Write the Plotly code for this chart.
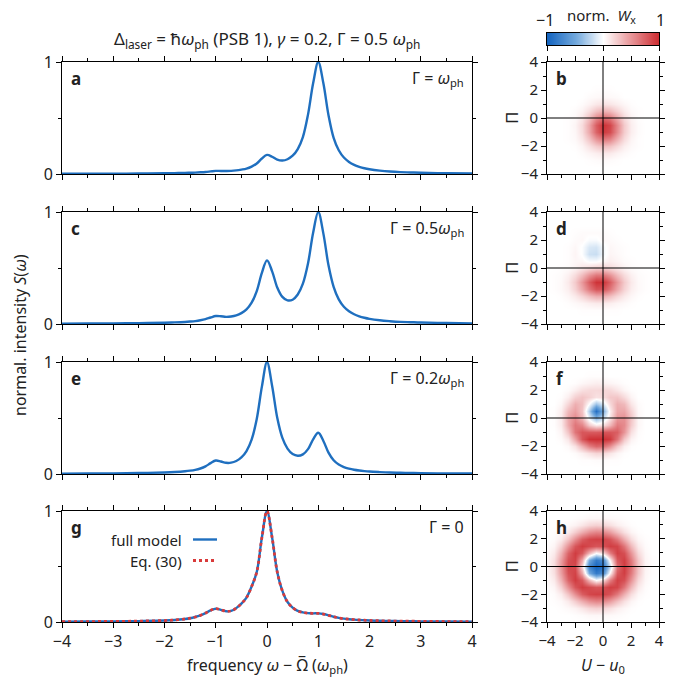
import plotly.graph_objects as go

W, H = 696, 686
FONT = "Noto Sans"
TXT = "#222222"
BLUE = "#1f6fbf"
RED = "#d93a3a"

# ---------------- data: spectra (normalised intensity) ----------------
FREQ = [-4, -3.5, -3, -2.5, -2, -1.8, -1.6,
        -1.5, -1.4, -1.3, -1.2, -1.1, -1.0, -0.9, -0.8, -0.7, -0.6, -0.5, -0.4, -0.3, -0.2, -0.1, 0.0,
        0.1, 0.2, 0.3, 0.4, 0.5, 0.6, 0.7, 0.8, 0.9, 1.0, 1.1, 1.2, 1.3, 1.4, 1.5, 1.6, 1.7, 1.8, 1.9, 2.0,
        2.2, 2.4, 2.6, 2.8, 3.0, 3.5, 4.0]

S_A = [.002, .0025, .003, .004, .0065, .008, .0096,
       .011, .0126, .015, .018, .023, .028, .027, .027, .028, .032, .039, .048, .066, .094, .138, .171,
       .154, .128, .12, .132, .163, .223, .33, .53, .81, 1.0, .81, .525, .323, .212, .147, .108, .082, .064, .051, .042,
       .030, .022, .017, .014, .011, .007, .005]

S_C = [.0032, .004, .0054, .0075, .0114, .0142, .0184,
       .0217, .026, .033, .043, .058, .071, .069, .064, .067, .077, .097, .13, .19, .294, .456, .568,
       .47, .326, .242, .211, .217, .263, .36, .54, .815, 1.0, .807, .524, .332, .22, .154, .114, .087, .069, .056, .046,
       .033, .025, .019, .016, .013, .009, .006]

S_E = [.0033, .0042, .006, .0086, .014, .018, .0246,
       .0296, .037, .049, .068, .097, .12, .112, .1, .101, .116, .148, .205, .307, .491, .78, 1.0,
       .786, .502, .322, .227, .178, .163, .175, .222, .31, .368, .295, .191, .123, .085, .062, .048, .038, .031, .026, .022,
       .017, .013, .011, .009, .0076, .0052, .004]

S_G_FULL = [.003, .004, .005, .008, .013, .018, .027,
            .034, .045, .06, .08, .105, .12, .11, .097, .1, .125, .165, .22, .32, .45, .76, 1.0,
            .76, .45, .28, .18, .13, .1, .087, .08, .078, .078, .072, .06, .047, .037, .03, .025, .021, .018, .016, .014,
            .011, .009, .008, .007, .006, .004, .003]

S_G_EQ30 = [.003, .004, .005, .008, .013, .018, .027,
            .034, .045, .06, .08, .105, .12, .11, .097, .1, .125, .165, .22, .32, .45, .76, 1.0,
            .76, .45, .28, .18, .13, .1, .087, .08, .078, .078, .072, .06, .047, .037, .03, .025, .021, .018, .016, .014,
            .011, .009, .008, .007, .006, .004, .003]

GAMMA_LABELS = ["Γ = <i>ω</i><sub>ph</sub>", "Γ = 0.5<i>ω</i><sub>ph</sub>",
                "Γ = 0.2<i>ω</i><sub>ph</sub>", "Γ = 0"]

# ---------------- data: normalised Wigner maps (percent) ----------------
U_GRID = [-4, -3.5, -3, -2.5, -2, -1.5, -1, -0.5, 0, 0.5, 1, 1.5, 2, 2.5, 3, 3.5, 4]
PI_GRID = [-4, -3.5, -3, -2.5, -2, -1.5, -1, -0.5, 0, 0.5, 1, 1.5, 2, 2.5, 3, 3.5, 4]
Z0 = [0] * 17

WX_B = [
    Z0, Z0,
    [0, 0, 0, 0, 0, 0, 1, 2, 3, 2, 1, 0, 0, 0, 0, 0, 0],
    [0, 0, 0, 0, 0, 2, 5, 8, 11, 10, 6, 3, 1, 0, 0, 0, 0],
    [0, 0, 0, 0, 1, 5, 14, 24, 31, 28, 18, 8, 3, 1, 0, 0, 0],
    [0, 0, 0, 1, 3, 11, 28, 50, 64, 58, 37, 17, 5, 1, 0, 0, 0],
    [0, 0, 0, 1, 4, 16, 41, 73, 93, 84, 54, 24, 8, 2, 0, 0, 0],
    [0, 0, 0, 1, 5, 17, 42, 76, 97, 87, 56, 25, 8, 2, 0, 0, 0],
    [0, 0, 0, 1, 3, 12, 31, 56, 71, 64, 41, 18, 6, 1, 0, 0, 0],
    [0, 0, 0, 0, 2, 6, 16, 29, 37, 33, 21, 10, 3, 1, 0, 0, 0],
    [0, 0, 0, 0, 0, 2, 6, 11, 14, 12, 8, 4, 1, 0, 0, 0, 0],
    [0, 0, 0, 0, 0, 0, 2, 3, 4, 3, 2, 0, 0, 0, 0, 0, 0],
    [0, 0, 0, 0, 0, 0, 0, 1, 1, 1, 0, 0, 0, 0, 0, 0, 0],
    Z0, Z0, Z0, Z0,
]

WX_D = [
    Z0, Z0,
    [0, 0, 0, 0, 0, 1, 1, 1, 1, 1, 1, 0, 0, 0, 0, 0, 0],
    [0, 0, 0, 1, 3, 5, 8, 10, 10, 8, 5, 3, 1, 0, 0, 0, 0],
    [0, 0, 1, 4, 10, 19, 30, 38, 38, 30, 19, 10, 4, 1, 0, 0, 0],
    [0, 1, 3, 8, 21, 41, 64, 81, 81, 64, 41, 21, 8, 3, 1, 0, 0],
    [0, 1, 3, 10, 25, 49, 76, 96, 96, 76, 49, 25, 10, 3, 1, 0, 0],
    [0, 1, 2, 7, 17, 32, 51, 64, 64, 51, 32, 17, 7, 2, 1, 0, 0],
    [0, 0, 1, 2, 6, 12, 18, 23, 23, 18, 12, 6, 2, 1, 0, 0, 0],
    [0, 0, 0, 1, 4, 4, -2, -2, 3, 8, 5, 2, 1, 0, 0, 0, 0],
    [0, 0, 0, 1, 5, -1, -17, -19, -4, 5, 3, 1, 0, 0, 0, 0, 0],
    [0, 0, 0, 1, 4, -1, -13, -15, -3, 4, 2, 1, 0, 0, 0, 0, 0],
    [0, 0, 0, 0, 2, 3, -2, -2, 3, 2, 1, 0, 0, 0, 0, 0, 0],
    [0, 0, 0, 0, 1, 2, 2, 2, 2, 1, 0, 0, 0, 0, 0, 0, 0],
    Z0, Z0, Z0,
]

WX_F = [
    Z0, Z0,
    [0, 0, 0, 0, 0, 1, 1, 2, 2, 1, 1, 0, 0, 0, 0, 0, 0],
    [0, 0, 0, 0, 2, 7, 14, 20, 19, 12, 5, 1, 0, 0, 0, 0, 0],
    [0, 0, 0, 3, 14, 37, 60, 72, 68, 52, 26, 8, 1, 0, 0, 0, 0],
    [0, 0, 2, 12, 43, 80, 97, 98, 98, 93, 66, 27, 6, 1, 0, 0, 0],
    [0, 0, 5, 28, 65, 80, 78, 78, 80, 80, 76, 50, 15, 2, 0, 0, 0],
    [0, 1, 9, 40, 65, 57, 25, 10, 15, 35, 62, 55, 24, 4, 0, 0, 0],
    [0, 1, 10, 41, 55, 34, -7, -40, -19, 14, 49, 52, 27, 4, 0, 0, 0],
    [0, 1, 8, 33, 45, 28, -28, -93, -46, 8, 41, 42, 21, 3, 0, 0, 0],
    [0, 0, 4, 20, 38, 30, -1, -35, -13, 18, 38, 33, 12, 2, 0, 0, 0],
    [0, 0, 1, 8, 22, 28, 22, 14, 16, 26, 27, 17, 5, 0, 0, 0, 0],
    [0, 0, 0, 2, 8, 15, 18, 18, 19, 18, 12, 5, 1, 0, 0, 0, 0],
    [0, 0, 0, 0, 1, 4, 6, 8, 7, 5, 3, 1, 0, 0, 0, 0, 0],
    [0, 0, 0, 0, 0, 0, 1, 1, 1, 0, 0, 0, 0, 0, 0, 0, 0],
    Z0, Z0,
]

WX_H = [
    [0, 0, 0, 0, 0, 0, 0, 1, 0, 0, 0, 0, 0, 0, 0, 0, 0],
    [0, 0, 0, 0, 1, 2, 4, 4, 4, 3, 2, 1, 0, 0, 0, 0, 0],
    [0, 0, 1, 3, 6, 12, 19, 22, 20, 15, 8, 4, 1, 0, 0, 0, 0],
    [0, 1, 3, 10, 24, 39, 52, 58, 56, 46, 30, 15, 5, 1, 0, 0, 0],
    [0, 2, 9, 28, 53, 76, 87, 90, 89, 81, 63, 38, 16, 4, 1, 0, 0],
    [1, 5, 22, 52, 80, 92, 86, 80, 82, 91, 88, 65, 33, 10, 2, 0, 0],
    [2, 10, 36, 73, 92, 78, 34, 1, 16, 61, 90, 83, 50, 18, 4, 0, 0],
    [3, 15, 46, 82, 89, 41, -48, -84, -70, 6, 78, 91, 62, 26, 5, 1, 0],
    [3, 17, 50, 86, 85, 20, -75, -99, -90, -20, 67, 92, 67, 28, 6, 1, 0],
    [3, 15, 46, 82, 89, 41, -48, -84, -70, 6, 78, 91, 62, 26, 5, 1, 0],
    [2, 10, 36, 73, 92, 78, 34, 1, 16, 61, 90, 83, 50, 18, 4, 0, 0],
    [1, 5, 22, 52, 80, 92, 86, 80, 82, 91, 88, 65, 33, 10, 2, 0, 0],
    [0, 2, 9, 28, 53, 76, 87, 90, 89, 81, 63, 38, 16, 4, 1, 0, 0],
    [0, 1, 3, 10, 24, 39, 52, 58, 56, 46, 30, 15, 5, 1, 0, 0, 0],
    [0, 0, 1, 3, 6, 12, 19, 22, 20, 15, 8, 4, 1, 0, 0, 0, 0],
    [0, 0, 0, 0, 1, 2, 4, 4, 4, 3, 2, 1, 0, 0, 0, 0, 0],
    [0, 0, 0, 0, 0, 0, 0, 1, 0, 0, 0, 0, 0, 0, 0, 0, 0],
]

# colour-bar levels (norm. W_x in percent)
CBAR_LEVELS = [-100, -90, -80, -70, -60, -50, -40, -30, -20, -10, 0,
               10, 20, 30, 40, 50, 60, 70, 80, 90, 100]

LEFT_LETTERS = ["a", "c", "e", "g"]
RIGHT_LETTERS = ["b", "d", "f", "h"]

# ---------------- layout geometry (pixels) ----------------
def px(x):
    return x / W

def py(y):
    return 1 - y / H

ROWS = [(62, 174), (212, 324), (362, 474), (511, 622)]
LEFT_X = (62, 472)
HEAT_X = (547, 659)
CBAR_Y = (33, 45)
LEG_Y = (539.5, 560.5)

COLORSCALE = [[0.0, "#1565c0"], [0.25, "#70a7dc"], [0.5, "#ffffff"], [0.75, "#e89598"], [1.0, "#cc2b30"]]

fig = go.Figure()

common = dict(showline=True, linecolor="black", linewidth=1, mirror="ticks",
              ticks="outside", ticklen=5, tickwidth=1, tickcolor="black",
              showgrid=False, zeroline=False, layer="above traces", automargin=False,
              tickfont=dict(family=FONT, size=16, color=TXT))
heat_font = dict(family=FONT, size=15, color=TXT)

spectra = [S_A, S_C, S_E, S_G_FULL]
for i, (top, bot) in enumerate(ROWS):
    li = i + 1
    hi = i + 5
    fig.update_layout(**{
        f"xaxis{li}": dict(common, domain=[px(LEFT_X[0]), px(LEFT_X[1])], anchor=f"y{li}",
                           range=[-4, 4], tick0=0, dtick=1, showticklabels=(i == 3),
                           minor=dict(dtick=0.5, ticklen=3, ticks="outside", tickcolor="black", showgrid=False)),
        f"yaxis{li}": dict(common, domain=[py(bot), py(top)], anchor=f"x{li}",
                           range=[0, 1], tickvals=[0, 1],
                           minor=dict(dtick=0.5, ticklen=3, ticks="outside", tickcolor="black", showgrid=False)),
        f"xaxis{hi}": dict(common, domain=[px(HEAT_X[0]), px(HEAT_X[1])], anchor=f"y{hi}",
                           range=[-4, 4], tick0=0, dtick=2, showticklabels=(i == 3), tickfont=heat_font,
                           minor=dict(dtick=1, ticklen=3, ticks="outside", tickcolor="black", showgrid=False)),
        f"yaxis{hi}": dict(common, domain=[py(bot), py(top)], anchor=f"x{hi}",
                           range=[-4, 4], tick0=0, dtick=2, tickfont=heat_font,
                           minor=dict(dtick=1, ticklen=3, ticks="outside", tickcolor="black", showgrid=False)),
    })
    fig.add_trace(go.Scatter(x=FREQ, y=spectra[i], mode="lines", line=dict(color=BLUE, width=2.4, shape="spline"),
                             xaxis=f"x{li}", yaxis=f"y{li}", showlegend=False, hoverinfo="skip"))

fig.add_trace(go.Scatter(x=FREQ, y=S_G_EQ30, mode="lines",
                         line=dict(color=RED, width=2.8, dash="dot", shape="spline"),
                         xaxis="x4", yaxis="y4", showlegend=False, hoverinfo="skip"))

maps = [WX_B, WX_D, WX_F, WX_H]
for i, z in enumerate(maps):
    hi = i + 5
    fig.add_trace(go.Heatmap(x=U_GRID, y=PI_GRID, z=z, coloraxis="coloraxis", zsmooth="best",
                             xaxis=f"x{hi}", yaxis=f"y{hi}", hoverinfo="skip"))
    fig.add_shape(type="line", xref=f"x{hi}", yref=f"y{hi}", x0=0, x1=0, y0=-4, y1=4,
                  line=dict(color="black", width=1), layer="above")
    fig.add_shape(type="line", xref=f"x{hi}", yref=f"y{hi}", x0=-4, x1=4, y0=0, y1=0,
                  line=dict(color="black", width=1), layer="above")

# colour bar as its own small subplot
fig.add_trace(go.Heatmap(x=CBAR_LEVELS, y=[0], z=[CBAR_LEVELS], coloraxis="coloraxis", zsmooth="best",
                         xaxis="x9", yaxis="y9", hoverinfo="skip"))
fig.update_layout(
    xaxis9=dict(domain=[px(HEAT_X[0]), px(HEAT_X[1])], anchor="y9", range=[-100, 100],
                showline=True, linecolor="black", linewidth=1, mirror=True,
                ticks="outside", ticklen=5, tickcolor="black", tickvals=[-100, 0, 100],
                showticklabels=False, showgrid=False, zeroline=False, automargin=False),
    yaxis9=dict(domain=[py(CBAR_Y[1]), py(CBAR_Y[0])], anchor="x9", range=[-0.5, 0.5],
                showline=True, linecolor="black", linewidth=1, mirror=True,
                ticks="", showticklabels=False, showgrid=False, zeroline=False, automargin=False),
)


def note(x, y, text, size=16, xanchor="center", yanchor="middle", angle=0, bold=False):
    return dict(x=px(x), y=py(y), xref="paper", yref="paper", showarrow=False,
                xanchor=xanchor, yanchor=yanchor, textangle=angle,
                text=f"<b>{text}</b>" if bold else text,
                font=dict(family=FONT, size=size, color=TXT))


annotations = []
for i, (top, bot) in enumerate(ROWS):
    annotations.append(note(LEFT_X[0] + 7, top + 3, LEFT_LETTERS[i], 17, "left", "top", bold=True))
    annotations.append(note(HEAT_X[0] + 7, top + 3, RIGHT_LETTERS[i], 17, "left", "top", bold=True))
    annotations.append(note(LEFT_X[1] - 6, top + 3, GAMMA_LABELS[i], 16, "right", "top"))
    annotations.append(note(511, (top + bot) / 2, "Π", 17, angle=-90))

annotations += [
    note(20, 335, "normal. intensity <i>S</i>(<i>ω</i>)", 16, angle=-90),
    note(267, 665, "frequency <i>ω</i> − Ω\u0305 (<i>ω</i><sub>ph</sub>)", 16),
    note(603, 665, "<i>U</i> − <i>u</i><sub>0</sub>", 16),
    note(267, 40, "Δ<sub>laser</sub> = ħ<i>ω</i><sub>ph</sub> (PSB 1), <i>γ</i> = 0.2, Γ = 0.5 <i>ω</i><sub>ph</sub>", 17),
    note(545, 20, "−1", 16),
    note(660, 20, "1", 16),
    note(601, 16, "norm.  <i>W</i><sub>x</sub>", 15),
    note(184, LEG_Y[0], "full model", 15, "right"),
    note(184, LEG_Y[1], "Eq. (30)", 15, "right"),
]

# legend keys
fig.add_shape(type="line", xref="paper", yref="paper", x0=px(193), x1=px(217), y0=py(LEG_Y[0]), y1=py(LEG_Y[0]),
              line=dict(color=BLUE, width=2.4))
fig.add_shape(type="line", xref="paper", yref="paper", x0=px(193), x1=px(217), y0=py(LEG_Y[1]), y1=py(LEG_Y[1]),
              line=dict(color=RED, width=2.8, dash="dot"))

fig.update_layout(
    width=W, height=H, margin=dict(l=0, r=0, t=0, b=0, autoexpand=False),
    paper_bgcolor="white", plot_bgcolor="white", showlegend=False,
    annotations=annotations,
    font=dict(family=FONT, color=TXT),
    coloraxis=dict(cmin=-100, cmax=100, colorscale=COLORSCALE, showscale=False),
)

fig.write_html("out.html")
